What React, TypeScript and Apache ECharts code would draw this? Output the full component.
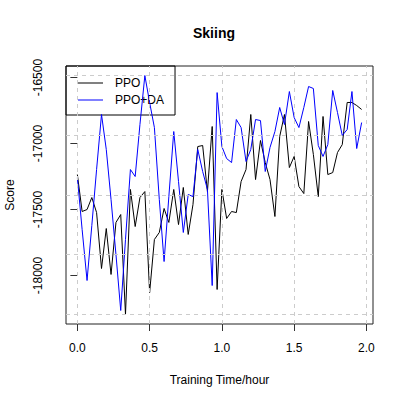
import React, { useEffect, useRef } from "react";
import * as echarts from "echarts";

// Training time (hours)
const times = [
  0, 0.033, 0.067, 0.1, 0.133, 0.167, 0.2, 0.233, 0.267, 0.3,
  0.333, 0.367, 0.4, 0.433, 0.467, 0.5, 0.533, 0.567, 0.6, 0.633,
  0.667, 0.7, 0.733, 0.767, 0.8, 0.833, 0.867, 0.9, 0.933, 0.967,
  1.0, 1.033, 1.067, 1.1, 1.133, 1.167, 1.2, 1.233, 1.267, 1.3,
  1.333, 1.367, 1.4, 1.433, 1.467, 1.5, 1.533, 1.567, 1.6, 1.633,
  1.667, 1.7, 1.733, 1.767, 1.8, 1.833, 1.867, 1.9, 1.933, 1.967,
];

const ppo = [
  -17235, -17515, -17500, -17409, -17523, -17947, -17644, -17992, -17598, -17538,
  -18295, -17348, -17629, -17409, -17364, -18129, -17727, -17674, -17492, -17598,
  -17348, -17614, -17333, -17689, -17462, -17023, -17015, -17364, -16871, -18106,
  -17348, -17568, -17515, -17523, -17288, -17197, -16780, -17273, -16977, -17144,
  -17273, -17553, -16947, -16780, -17182, -17098, -17326, -17379, -16833, -17083,
  -17402, -16795, -17235, -17220, -17068, -17008, -16689, -16689, -16712, -16742,
];

const ppoDa = [
  -17258, -17652, -18038, -17621, -17197, -16780, -17045, -17424, -17841, -18265,
  -17727, -17197, -17250, -16856, -16485, -16689, -16879, -17424, -17894, -17402,
  -16909, -17288, -17674, -17386, -17402, -17045, -17212, -17348, -18076, -16614,
  -17023, -17114, -17144, -16818, -16879, -17136, -17045, -16818, -16826, -17212,
  -17030, -16909, -16727, -16856, -16606, -16803, -16879, -16727, -16568, -16583,
  -17015, -17098, -17008, -16598, -16765, -16939, -16894, -16606, -17038, -16841,
];

const xTicks = [0, 0.5, 1, 1.5, 2];
const yTicks = [-18000, -17500, -17000, -16500];
const seriesNames = ["PPO", "PPO+DA"];
const titleText = "Skiing";
const xTitle = "Training Time/hour";
const yTitle = "Score";

const FONT = '"Liberation Sans", Arial, Helvetica, sans-serif';

export default function App() {
  const ref = useRef<HTMLDivElement>(null);
  useEffect(() => {
    if (!ref.current) return;
    const chart = echarts.init(ref.current, null, { renderer: "svg" });
    const all = [...ppo, ...ppoDa];
    const yMin = Math.min(...all);
    const yMax = Math.max(...all);
    const yPad = (yMax - yMin) * 0.04;
    const xMin = Math.min(...times);
    const xMax = Math.max(...times);
    const xPad = (xMax - xMin) * 0.04;
    const yGrid = [0, 1, 2, 3, 4].map((k) => yMin + (k * (yMax - yMin)) / 4);

    chart.setOption({
      animation: false,
      graphic: [
        {
          type: "text",
          x: 214,
          y: 33,
          style: {
            text: titleText,
            font: `bold 14px ${FONT}`,
            textAlign: "center",
            textVerticalAlign: "middle",
            fill: "#000",
          },
        },
      ],
      grid: {
        left: 66,
        top: 66,
        right: 34,
        bottom: 83,
        show: true,
        borderColor: "#222",
        borderWidth: 1,
        backgroundColor: "transparent",
        containLabel: false,
        outerBoundsMode: "none",
      },
      legend: {
        show: true,
        orient: "vertical",
        left: 66,
        top: 66,
        padding: [10, 11, 8, 12],
        itemGap: 3,
        itemWidth: 25,
        itemHeight: 14,
        icon: "path://M0,6.5 L25,6.5 L25,7.5 L0,7.5 Z",
        borderColor: "#000",
        borderWidth: 1,
        borderRadius: 0,
        data: seriesNames,
        textStyle: { fontSize: 12, lineHeight: 14, color: "#000", fontFamily: FONT, padding: [0, 0, 0, 7] },
      },
      xAxis: {
        type: "value",
        min: xMin - xPad,
        max: xMax + xPad,
        axisLine: { show: false },
        splitLine: { show: false },
        axisTick: {
          show: true,
          inside: false,
          length: 7,
          customValues: xTicks,
          lineStyle: { color: "#333" },
        },
        axisLabel: {
          customValues: xTicks,
          formatter: (v: number) => v.toFixed(1),
          margin: 18,
          fontSize: 12,
          color: "#000",
          fontFamily: FONT,
        },
        name: xTitle,
        nameLocation: "middle",
        nameGap: 50,
        nameTextStyle: { fontSize: 12, color: "#000", fontFamily: FONT },
      },
      yAxis: {
        type: "value",
        min: yMin - yPad,
        max: yMax + yPad,
        axisLine: { show: false },
        splitLine: { show: false },
        axisTick: {
          show: true,
          inside: false,
          length: 7,
          customValues: yTicks,
          lineStyle: { color: "#333" },
        },
        axisLabel: {
          customValues: yTicks,
          formatter: (v: number) => String(Math.round(v)),
          rotate: 90,
          margin: 22,
          fontSize: 12,
          color: "#000",
          fontFamily: FONT,
        },
        name: yTitle,
        nameLocation: "middle",
        nameGap: 50,
        nameRotate: 90,
        nameTextStyle: { fontSize: 12, color: "#000", fontFamily: FONT },
      },
      series: [
        {
          name: "_grid",
          type: "line",
          data: [],
          z: 1,
          silent: true,
          markLine: {
            silent: true,
            symbol: "none",
            label: { show: false },
            lineStyle: { type: [4, 4], color: "#cccccc", width: 1 },
            data: [
              ...yGrid.map((v) => ({ yAxis: v })),
              ...xTicks.map((v) => ({ xAxis: v })),
            ],
          },
        },
        {
          name: seriesNames[0],
          type: "line",
          data: times.map((t, i) => [t, ppo[i]]),
          symbol: "none",
          z: 3,
          lineStyle: { color: "#000", width: 1 },
          itemStyle: { color: "#000" },
        },
        {
          name: seriesNames[1],
          type: "line",
          data: times.map((t, i) => [t, ppoDa[i]]),
          symbol: "none",
          z: 4,
          lineStyle: { color: "#0000ff", width: 1 },
          itemStyle: { color: "#0000ff" },
        },
      ],
    });
    return () => chart.dispose();
  }, []);
  return (
    <div
      ref={ref}
      style={{ position: "absolute", left: 0, top: 0, width: 407, height: 407, background: "#fff" }}
    />
  );
}
